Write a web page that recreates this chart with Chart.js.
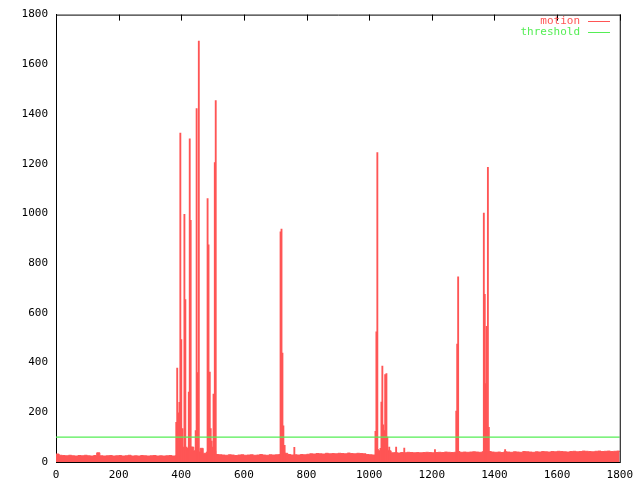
<!DOCTYPE html>
<html>
<head>
<meta charset="utf-8">
<script src="https://cdn.jsdelivr.net/npm/chart.js"></script>
<style>
body{margin:0;background:#fff;}
#wrap{width:640px;height:480px;}
</style>
</head>
<body>
<div id="wrap"><canvas id="motionChart" width="640" height="480"></canvas></div>
<script>
// tick values
var xTicks = [0,200,400,600,800,1000,1200,1400,1600,1800];
var yTicks = [0,200,400,600,800,1000,1200,1400,1600,1800];
var seriesNames = ["motion","threshold"];

// motion noise floor, one value every 10 frames (0..1800)
var baselineStep = 10;
var baseline = [
  32,27,26,25,27,25,24,26,25,27,
  25,24,26,37,25,24,25,26,24,25,
  26,24,25,27,24,25,24,26,25,24,
  25,26,24,25,24,25,26,24,25,
  30,45,55,40,60,45,40,55,35,40,60,45,30,29,
  28,27,29,28,26,28,29,27,28,29,27,28,30,28,27,29,28,29,30,
  40,35,30,28,29,28,30,29,
  31,33,32,34,33,32,35,33,34,33,35,34,33,36,34,33,35,34,33,30,29,28,
  50,45,60,50,45,
  37,38,36,38,37,39,38,37,38,37,38,39,38,37,
  38,39,38,40,39,38,39,
  42,39,40,39,40,41,40,39,41,
  45,42,40,
  39,40,38,41,40,39,41,40,39,42,41,40,39,41,40,42,41,40,42,41,
  43,42,41,40,42,43,41,42,44,43,42,41,43,44,42,43,44,42,43,44,42
];

// motion peaks (frame, value)
var spikeX = [384,387,391,394,397,400,404,407,410,413,417,420,424,427,430,433,
  446,449,452,456,484,487,491,494,497,500,503,507,510,
  717,720,723,726,730,761,
  1020,1023,1026,1036,1039,1042,1045,1048,1051,1055,1058,1064,1086,1112,
  1210,1278,1281,1284,1366,1369,1372,1375,1379,1382,1434];
var spikeY = [160,378,198,240,1323,493,134,60,996,653,60,55,281,1300,972,60,
  126,1422,360,1693,1060,874,362,134,84,45,273,1205,1454,
  926,937,438,146,67,59,
  123,524,1245,55,241,386,150,126,352,356,100,60,60,56,
  50,205,474,745,1001,675,316,546,1186,139,50];

var threshold = 100;

var red = "#ff5555";
var green = "#55ee55";
var tickFont = {family:"'DejaVu Sans Mono', monospace", size:11};

var basePoints = baseline.map(function(v,i){ return {x:i*baselineStep, y:v}; });
var spikePoints = spikeX.map(function(x,i){ return {x:x, y:spikeY[i]}; });
var thresholdPoints = [{x:xTicks[0], y:threshold},{x:xTicks[xTicks.length-1], y:threshold}];

var frame = {
  id:'frame',
  afterDatasetsDraw: function(chart){
    var c = chart.ctx, a = chart.chartArea, xs = chart.scales.x;
    c.save();
    c.strokeStyle = '#000';
    c.lineWidth = 1;
    c.beginPath();
    c.moveTo(a.left, a.top+0.5); c.lineTo(a.right+1, a.top+0.5);
    c.moveTo(a.right+0.5, a.top); c.lineTo(a.right+0.5, a.bottom+1);
    xTicks.forEach(function(v){
      var px = Math.round(xs.getPixelForValue(v))+0.5;
      c.moveTo(px, a.top); c.lineTo(px, a.top+6);
    });
    c.stroke();
    c.restore();
  },
  afterDraw: function(chart){
    var c = chart.ctx;
    c.save();
    c.font = "11px 'DejaVu Sans Mono', monospace";
    c.textAlign = 'right';
    c.textBaseline = 'middle';
    [[seriesNames[0], red, 21.5],[seriesNames[1], green, 32.5]].forEach(function(it){
      c.fillStyle = it[1];
      c.fillText(it[0], 580, it[2]);
      c.strokeStyle = it[1];
      c.lineWidth = 1;
      c.beginPath();
      c.moveTo(588, Math.floor(it[2])+0.5);
      c.lineTo(610, Math.floor(it[2])+0.5);
      c.stroke();
    });
    c.restore();
  }
};

function plainLabel(v){ return String(v); }

var ctx = document.getElementById("motionChart");
var myChart = new Chart(ctx, {
  type: 'bar',
  data: {
    datasets: [
      {
        type: 'line',
        label: seriesNames[1],
        data: thresholdPoints,
        borderColor: green,
        borderWidth: 1.2,
        pointRadius: 0,
        fill: false,
        order: 0
      },
      {
        type: 'bar',
        label: seriesNames[0],
        data: spikePoints,
        backgroundColor: red,
        borderWidth: 0,
        barThickness: 1.2,
        order: 1
      },
      {
        type: 'line',
        label: seriesNames[0],
        data: basePoints,
        stepped: true,
        fill: 'origin',
        backgroundColor: red,
        borderColor: red,
        borderWidth: 1,
        pointRadius: 0,
        order: 2
      }
    ]
  },
  options: {
    responsive: false,
    animation: false,
    devicePixelRatio: 1,
    layout: {autoPadding: false, padding: {top:5, right:19, left:0, bottom:0}},
    plugins: {legend: {display:false}, tooltip: {enabled:false}},
    scales: {
      x: {
        type: 'linear',
        min: 0,
        max: 1800,
        offset: false,
        afterBuildTicks: function(s){ s.ticks = xTicks.map(function(v){ return {value:v}; }); },
        afterFit: function(s){ s.height = 18; },
        grid: {display:false, drawTicks:false},
        border: {display:true, color:'#000', width:1},
        ticks: {color:'#000', font:tickFont, padding:7, maxRotation:0, autoSkip:false, callback:plainLabel}
      },
      y: {
        type: 'linear',
        min: 0,
        max: 1800,
        afterBuildTicks: function(s){ s.ticks = yTicks.map(function(v){ return {value:v}; }); },
        afterFit: function(s){ s.width = 56; },
        grid: {display:false, drawTicks:false},
        border: {display:true, color:'#000', width:1},
        ticks: {color:'#000', font:tickFont, padding:8, autoSkip:false, callback:plainLabel}
      }
    }
  },
  plugins: [frame]
});
</script>
</body>
</html>
